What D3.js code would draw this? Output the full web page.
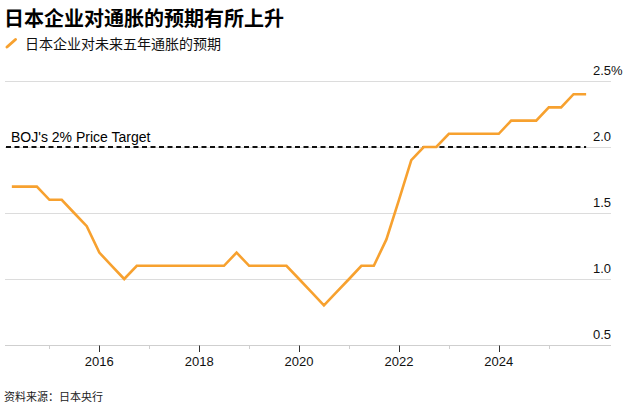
<!DOCTYPE html>
<html>
<head>
<meta charset="utf-8">
<script src="https://cdn.jsdelivr.net/npm/d3@7"></script>
<style>
  html, body { margin: 0; padding: 0; background: #fff; }
  svg { display: block; }
</style>
</head>
<body>
<div id="chart"></div>
<script>
const width = 633;
const height = 416;

// Quarterly survey dates and expected inflation 5 years ahead (%)
const dates = [
  "2014-04-01","2014-07-01","2014-10-01",
  "2015-01-01","2015-04-01","2015-07-01","2015-10-01",
  "2016-01-01","2016-04-01","2016-07-01","2016-10-01",
  "2017-01-01","2017-04-01","2017-07-01","2017-10-01",
  "2018-01-01","2018-04-01","2018-07-01","2018-10-01",
  "2019-01-01","2019-04-01","2019-07-01","2019-10-01",
  "2020-01-01","2020-04-01","2020-07-01","2020-10-01",
  "2021-01-01","2021-04-01","2021-07-01","2021-10-01",
  "2022-01-01","2022-04-01","2022-07-01","2022-10-01",
  "2023-01-01","2023-04-01","2023-07-01","2023-10-01",
  "2024-01-01","2024-04-01","2024-07-01","2024-10-01",
  "2025-01-01","2025-04-01","2025-07-01","2025-10-01"
];
const values = [
  1.7, 1.7, 1.7,
  1.6, 1.6, 1.5, 1.4,
  1.2, 1.1, 1.0, 1.1,
  1.1, 1.1, 1.1, 1.1,
  1.1, 1.1, 1.1, 1.2,
  1.1, 1.1, 1.1, 1.1,
  1.0, 0.9, 0.8, 0.9,
  1.0, 1.1, 1.1, 1.3,
  1.6, 1.9, 2.0, 2.0,
  2.1, 2.1, 2.1, 2.1,
  2.1, 2.2, 2.2, 2.2,
  2.3, 2.3, 2.4, 2.4
];
const yTicks = [0.5, 1.0, 1.5, 2.0, 2.5];
const majorYears = [2016, 2018, 2020, 2022, 2024];
const minorYears = [2015, 2017, 2019, 2021, 2023, 2025];
const target = 2.0;

const title = "日本企业对通胀的预期有所上升";
const legendLabel = "日本企业对未来五年通胀的预期";
const targetLabel = "BOJ's 2% Price Target";
const source = "资料来源：日本央行";

const cjk = "'Noto Sans CJK SC', 'Noto Sans', sans-serif";
const latin = "'Liberation Sans', Arial, sans-serif";
const orange = "#f7a12f";

const data = dates.map((d, i) => ({ date: new Date(d), value: values[i] }));

const x = d3.scaleTime()
  .domain([new Date("2014-02-10"), new Date("2026-04-01")])
  .range([5, 611]);

const y = d3.scaleLinear()
  .domain([0.5, 2.5])
  .range([345, 81]);

const svg = d3.select("#chart").append("svg")
  .attr("width", width)
  .attr("height", height);

// Title & legend
svg.append("text")
  .attr("x", 4).attr("y", 26)
  .attr("font-family", cjk)
  .attr("font-weight", 700)
  .attr("font-size", 20)
  .attr("fill", "#000")
  .text(title);

svg.append("line")
  .attr("x1", 7).attr("y1", 47)
  .attr("x2", 15.5).attr("y2", 39.5)
  .attr("stroke", orange)
  .attr("stroke-width", 3)
  .attr("stroke-linecap", "round");

svg.append("text")
  .attr("x", 25).attr("y", 49)
  .attr("font-family", cjk)
  .attr("font-size", 14)
  .attr("fill", "#111")
  .text(legendLabel);

// Gridlines
svg.append("g")
  .selectAll("line")
  .data(yTicks)
  .join("line")
  .attr("x1", x.range()[0])
  .attr("x2", x.range()[1])
  .attr("y1", d => y(d) + 0.5)
  .attr("y2", d => y(d) + 0.5)
  .attr("stroke", d => d === 0.5 ? "#cfcfcf" : "#dcdcdc")
  .attr("stroke-width", 1);

// Y labels
svg.append("g")
  .selectAll("text")
  .data(yTicks)
  .join("text")
  .attr("x", 593)
  .attr("y", d => y(d) - 6)
  .attr("font-family", latin)
  .attr("font-size", 13)
  .attr("fill", "#111")
  .text(d => d === 2.5 ? d3.format(".1f")(d) + "%" : d3.format(".1f")(d));

// X axis ticks
const yearDate = yr => new Date(yr, 0, 1);

svg.append("g")
  .selectAll("line")
  .data(minorYears)
  .join("line")
  .attr("x1", d => Math.round(x(yearDate(d))) + 0.5)
  .attr("x2", d => Math.round(x(yearDate(d))) + 0.5)
  .attr("y1", 345.5).attr("y2", 349)
  .attr("stroke", "#cfcfcf");

svg.append("g")
  .selectAll("line")
  .data(majorYears)
  .join("line")
  .attr("x1", d => Math.round(x(yearDate(d))) + 0.5)
  .attr("x2", d => Math.round(x(yearDate(d))) + 0.5)
  .attr("y1", 345.5).attr("y2", 352)
  .attr("stroke", "#333");

svg.append("g")
  .selectAll("text")
  .data(majorYears)
  .join("text")
  .attr("x", d => x(yearDate(d)))
  .attr("y", 366)
  .attr("text-anchor", "middle")
  .attr("font-family", latin)
  .attr("font-size", 13)
  .attr("fill", "#111")
  .text(d => d);

// Target line
svg.append("line")
  .attr("x1", 6)
  .attr("x2", x(data[data.length - 1].date))
  .attr("y1", y(target))
  .attr("y2", y(target))
  .attr("stroke", "#111")
  .attr("stroke-width", 2)
  .attr("stroke-dasharray", "5,3.5");

svg.append("text")
  .attr("x", 11).attr("y", y(target) - 5)
  .attr("font-family", latin)
  .attr("font-size", 14)
  .attr("fill", "#000")
  .text(targetLabel);

// Line
const line = d3.line()
  .x(d => x(d.date))
  .y(d => y(d.value));

svg.append("path")
  .datum(data)
  .attr("fill", "none")
  .attr("stroke", orange)
  .attr("stroke-width", 2.6)
  .attr("stroke-linejoin", "miter")
  .attr("d", line);

// Source
svg.append("text")
  .attr("x", 4).attr("y", 401)
  .attr("font-family", cjk)
  .attr("font-size", 11)
  .attr("fill", "#222")
  .text(source);
</script>
</body>
</html>
